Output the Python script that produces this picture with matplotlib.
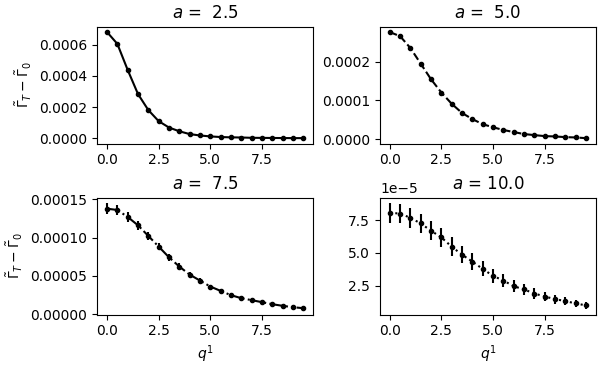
import matplotlib
matplotlib.use("Agg")
import matplotlib.pyplot as plt
from matplotlib.ticker import MultipleLocator

# q^1 grid
q = [0.0, 0.5, 1.0, 1.5, 2.0, 2.5, 3.0, 3.5, 4.0, 4.5,
     5.0, 5.5, 6.0, 6.5, 7.0, 7.5, 8.0, 8.5, 9.0, 9.5]

a_values = [2.5, 5.0, 7.5, 10.0]
styles = ["-", "--", "-.", ":"]
ytick_steps = [0.0002, 0.0001, 0.00005, 2.5e-5]

# Gamma_T - Gamma_0 for each a
g_a25 = [6.82e-4, 6.06e-4, 4.39e-4, 2.84e-4, 1.81e-4, 1.10e-4, 0.69e-4, 0.45e-4,
         0.27e-4, 0.18e-4, 0.12e-4, 0.08e-4, 0.06e-4, 0.05e-4, 0.03e-4, 0.025e-4,
         0.02e-4, 0.015e-4, 0.01e-4, 0.01e-4]
e_a25 = [0.05e-5] * 20

g_a50 = [2.763e-4, 2.658e-4, 2.351e-4, 1.947e-4, 1.544e-4, 1.202e-4, 0.912e-4, 0.675e-4,
         0.518e-4, 0.386e-4, 0.307e-4, 0.237e-4, 0.184e-4, 0.132e-4, 0.105e-4, 0.079e-4,
         0.070e-4, 0.053e-4, 0.044e-4, 0.026e-4]
e_a50 = [0.04e-5, 0.04e-5, 0.035e-5, 0.035e-5, 0.03e-5, 0.03e-5, 0.025e-5, 0.025e-5,
         0.02e-5, 0.02e-5, 0.02e-5, 0.015e-5, 0.015e-5, 0.015e-5, 0.01e-5, 0.01e-5,
         0.01e-5, 0.01e-5, 0.01e-5, 0.01e-5]

g_a75 = [1.378e-4, 1.361e-4, 1.270e-4, 1.161e-4, 1.022e-4, 0.883e-4, 0.743e-4, 0.622e-4,
         0.517e-4, 0.439e-4, 0.361e-4, 0.304e-4, 0.248e-4, 0.209e-4, 0.183e-4, 0.157e-4,
         0.130e-4, 0.109e-4, 0.091e-4, 0.078e-4]
e_a75 = [0.075e-4, 0.07e-4, 0.065e-4, 0.06e-4, 0.055e-4, 0.05e-4, 0.045e-4, 0.04e-4,
         0.035e-4, 0.03e-4, 0.025e-4, 0.02e-4, 0.018e-4, 0.015e-4, 0.014e-4, 0.013e-4,
         0.013e-4, 0.013e-4, 0.013e-4, 0.013e-4]

g_a100 = [8.06e-5, 8.01e-5, 7.68e-5, 7.25e-5, 6.69e-5, 6.18e-5, 5.47e-5, 4.86e-5,
          4.33e-5, 3.77e-5, 3.24e-5, 2.88e-5, 2.45e-5, 2.20e-5, 1.89e-5, 1.66e-5,
          1.46e-5, 1.31e-5, 1.13e-5, 0.98e-5]
e_a100 = [0.76e-5, 0.71e-5, 0.74e-5, 0.75e-5, 0.71e-5, 0.72e-5, 0.73e-5, 0.63e-5,
          0.63e-5, 0.57e-5, 0.52e-5, 0.50e-5, 0.47e-5, 0.43e-5, 0.41e-5, 0.36e-5,
          0.34e-5, 0.32e-5, 0.30e-5, 0.29e-5]

series = [(g_a25, e_a25), (g_a50, e_a50), (g_a75, e_a75), (g_a100, e_a100)]

fig, axes = plt.subplots(2, 2, figsize=(6, 3.7), dpi=100)
fig.subplots_adjust(left=0.162, right=0.993, top=0.928, bottom=0.150,
                    wspace=0.31, hspace=0.463)
for i, ax in enumerate(axes.flat):
    g, e = series[i]
    ax.errorbar(q, g, yerr=e, fmt=".", ls=styles[i], color="k")
    ax.set_title(f"$a$ = {a_values[i]:4.1f}")
    ax.xaxis.set_major_locator(MultipleLocator(2.5))
    ax.yaxis.set_major_locator(MultipleLocator(ytick_steps[i]))
    if i % 2 == 0:
        ax.set_ylabel(r"$\tilde{\Gamma}_T - \tilde{\Gamma}_0$")
    if i >= 2:
        ax.set_xlabel(r"$q^1$")

fig.savefig("out.png", dpi=100)
